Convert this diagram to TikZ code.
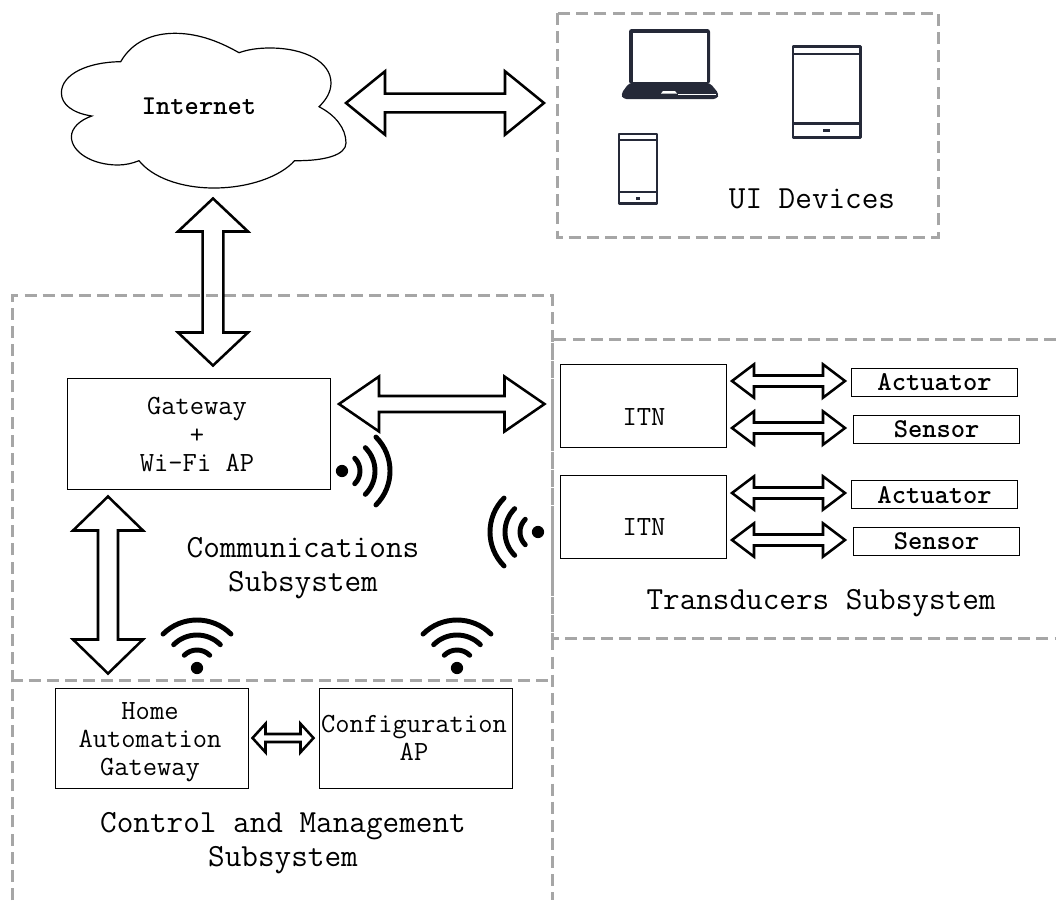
\documentclass[tikz,border=0pt]{standalone}
\usetikzlibrary{calc}
\definecolor{dashgray}{HTML}{A6A6A6}
\definecolor{devink}{HTML}{252938}
\tikzset{
  x=0.75pt,y=-0.75pt,
  zone/.style={draw=dashgray,line width=2.25pt,dash pattern=on 9pt off 4.6pt},
  boxnode/.style={draw=black,line width=0.9pt,inner sep=0pt,anchor=north west},
  plain/.style={inner sep=0pt,align=center,font=\ttfamily\fontsize{20.8}{21}\selectfont},
  large/.style={inner sep=0pt,align=center,font=\ttfamily\fontsize{24.2}{25}\selectfont},
  strong/.style={inner sep=0pt,align=center,font=\ttfamily\bfseries\fontsize{20.4}{21}\selectfont},
  blockarrow/.style={draw=black,line width=1.9pt,line join=miter},
  wave/.style={draw=black,line width=3.7pt,line cap=round},
  device/.style={draw=devink,line width=1.9pt,line join=round},
}
% #1,#2 named ends; #3 head length, #4 head half width, #5 shaft half width (all px)
\newcommand{\blockarr}[5]{%
  \draw[blockarrow] (#1)
   -- ($(#1)!#3*0.75pt!(#2)!#4*0.75pt!90:(#2)$)
   -- ($(#1)!#3*0.75pt!(#2)!#5*0.75pt!90:(#2)$)
   -- ($(#2)!#3*0.75pt!(#1)!#5*0.75pt!-90:(#1)$)
   -- ($(#2)!#3*0.75pt!(#1)!#4*0.75pt!-90:(#1)$)
   -- (#2)
   -- ($(#2)!#3*0.75pt!(#1)!#4*0.75pt!90:(#1)$)
   -- ($(#2)!#3*0.75pt!(#1)!#5*0.75pt!90:(#1)$)
   -- ($(#1)!#3*0.75pt!(#2)!#5*0.75pt!-90:(#2)$)
   -- ($(#1)!#3*0.75pt!(#2)!#4*0.75pt!-90:(#2)$)
   -- cycle;}
% #1 dot position, #2 central direction
\newcommand{\signal}[2]{%
  \fill[black] (#1) circle[radius=4.6pt];
  \foreach \rr in {18,33,48}{%
    \draw[wave] ($(#1)+({#2-45}:\rr*0.75pt)$) arc[start angle=#2-45,delta angle=90,radius=\rr*0.75pt];}}
\begin{document}
\begin{tikzpicture}
\useasboundingbox (0,0) rectangle (1056,900);
% zones
\draw[zone] (12.5,900) -- (12.5,295.5) -- (552,295.5) -- (552,900);
\draw[zone] (12.5,900) -- (12.5,680.5) -- (552,680.5);
\draw[zone] (1056,339) -- (552,339) -- (552,638) -- (1056,638);
\draw[zone] (557,13) rectangle (938,237);
% cloud
\draw[black,line width=0.9pt,fill=white]
 (120.7,61.7) .. controls (132,42) and (152,33.3) .. (175,33.3)
 .. controls (200,33.3) and (222,43) .. (239,52.7)
 .. controls (248,49.5) and (258,48) .. (270,48)
 .. controls (305,48) and (331,62) .. (331,83)
 .. controls (331,92) and (326,100) .. (319,106.7)
 .. controls (335,115) and (346,128) .. (346,143)
 .. controls (346,155) and (325,161) .. (294.6,160.7)
 .. controls (280,177) and (248,188) .. (214,188)
 .. controls (180,188) and (152,177) .. (139,160.7)
 .. controls (132,163.5) and (125,165) .. (118,165)
 .. controls (92,165) and (71.4,152) .. (71.4,136.7)
 .. controls (71.4,128) and (80,120) .. (91.8,116)
 .. controls (72,113) and (61.4,104) .. (61.4,93)
 .. controls (61.4,74) and (88,62) .. (120.7,61.7) -- cycle;
\node[strong] (internet) at (199,106) {Internet};
% device: laptop
\fill[devink,rounded corners=2pt] (629,84) -- (629,29) -- (710,29) -- (710,84) -- cycle;
\fill[white] (633,33) rectangle (707,82);
\fill[devink,rounded corners=2.5pt] (629,83) -- (710,83) -- (719,94) -- (717,99) -- (623,99) -- (621,94) -- cycle;
\fill[white] (663,91) -- (675,91) -- (677,93.5) -- (661,93.5) -- cycle;
\draw[white,line width=0.3pt] (678,94.3) -- (716,94.3);
% device: tablet
\draw[device] (793,46.5) rectangle (860.5,137.5);
\draw[device] (793,54) -- (860.5,54) (793,123.5) -- (860.5,123.5);
\fill[devink] (823,129) rectangle (830,131.5);
% device: phone
\draw[device] (619,134) rectangle (657,203.5);
\draw[device] (619,140) -- (657,140) (619,192) -- (657,192);
\fill[devink] (636,197) rectangle (640,199.5);
\node[large] (uilabel) at (812,199) {UI Devices};
% gateway
\node[boxnode,minimum width=263pt*0.75,minimum height=111pt*0.75] (gw) at (66.7,377.7) {};
\node[plain] (gwt) at (197,434.5) {Gateway\\[0.6pt]+\\[0.6pt]Wi-Fi AP};
\node[large] (commt) at (303,568) {Communications\\Subsystem};
% ITN
\node[boxnode,minimum width=166pt*0.75,minimum height=83pt*0.75] (itna) at (560,364) {};
\node[boxnode,minimum width=166pt*0.75,minimum height=83pt*0.75] (itnb) at (560,475) {};
\node[plain] (itnat) at (644,417) {ITN};
\node[plain] (itnbt) at (644,527.5) {ITN};
\node[boxnode,strong,minimum width=166pt*0.75,minimum height=28pt*0.75] (acta) at (851,368) {Actuator};
\node[boxnode,strong,minimum width=166pt*0.75,minimum height=28pt*0.75] (sena) at (853,415) {Sensor};
\node[boxnode,strong,minimum width=166pt*0.75,minimum height=28pt*0.75] (actb) at (851,480) {Actuator};
\node[boxnode,strong,minimum width=166pt*0.75,minimum height=28pt*0.75] (senb) at (853,527) {Sensor};
\node[large] (tranlabel) at (821,603) {Transducers Subsystem};
% control
\node[boxnode,minimum width=192.5pt*0.75,minimum height=100pt*0.75] (ha) at (55,688) {};
\node[plain] (hat) at (150,742) {Home\\Automation\\Gateway};
\node[boxnode,minimum width=193pt*0.75,minimum height=100pt*0.75] (cfg) at (319,688) {};
\node[plain] (cfgt) at (414,738) {Configuration\\AP};
\node[large] (ctlt) at (283,843) {Control and Management\\Subsystem};
% arrow ends
\coordinate (a1) at (346,103);   \coordinate (a2) at (544,103);
\coordinate (b1) at (213,198.5); \coordinate (b2) at (213,365.5);
\coordinate (c1) at (339,404);   \coordinate (c2) at (544.5,404);
\coordinate (d1) at (108,496.5); \coordinate (d2) at (108,673.5);
\coordinate (e1) at (252.5,738); \coordinate (e2) at (313.5,738);
\coordinate (f1) at (732,381);   \coordinate (f2) at (845,381);
\coordinate (g1) at (732,428);   \coordinate (g2) at (845,428);
\coordinate (h1) at (732,493);   \coordinate (h2) at (845,493);
\coordinate (i1) at (732,540);   \coordinate (i2) at (845,540);
\blockarr{a1}{a2}{39}{31.7}{9.3}
\blockarr{b1}{b2}{33}{35}{10.3}
\blockarr{c1}{c2}{40}{27.5}{8}
\blockarr{d1}{d2}{34}{35}{10}
\blockarr{e1}{e2}{13}{14.3}{4}
\blockarr{f1}{f2}{22}{16.7}{5.5}
\blockarr{g1}{g2}{22}{16.7}{5.5}
\blockarr{h1}{h2}{22}{16.7}{5.5}
\blockarr{i1}{i2}{22}{16.7}{5.5}
% signals
\coordinate (s1) at (342,471);
\coordinate (s2) at (538,532);
\coordinate (s3) at (197,668);
\coordinate (s4) at (457,668);
\signal{s1}{0}
\signal{s2}{180}
\signal{s3}{90}
\signal{s4}{90}
\end{tikzpicture}
\end{document}
